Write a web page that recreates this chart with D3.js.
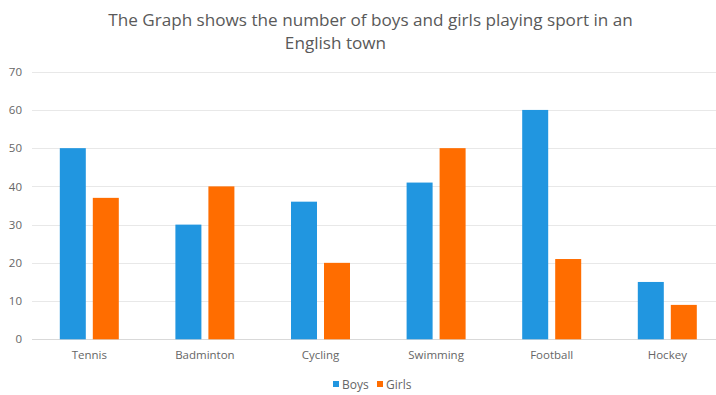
<!DOCTYPE html>
<html>
<head>
<meta charset="utf-8">
<script src="https://cdn.jsdelivr.net/npm/d3@7"></script>
<style>
  body { margin: 0; background: #fff; }
  text { font-family: "Open Sans", sans-serif; }
</style>
</head>
<body>
<div id="chart"></div>
<script>
// データ
const categories = ['Tennis', 'Badminton', 'Cycling', 'Swimming', 'Football', 'Hockey'];
const seriesNames = ['Boys', 'Girls'];
const boys = [50, 30, 36, 41, 60, 15];
const girls = [37, 40, 20, 50, 21, 9];
const yTicks = [0, 10, 20, 30, 40, 50, 60, 70];
const titleLines = ['The Graph shows the number of boys and girls playing sport in an', 'English town'];

const colors = { Boys: '#2196e0', Girls: '#ff6d00' };

// svg領域設定
const svgWidth = 716;
const svgHeight = 395;
const svg = d3.select('#chart')
  .append('svg')
  .attr('width', svgWidth)
  .attr('height', svgHeight);

// scales
const x0 = d3.scaleBand()
  .domain(categories)
  .range([31.5, 725.1]);
const groupWidth = 59;
const x1 = d3.scaleBand()
  .domain(seriesNames)
  .range([(x0.bandwidth() - groupWidth) / 2, (x0.bandwidth() + groupWidth) / 2])
  .paddingInner(7 / 33);
const y = d3.scaleLinear()
  .domain([0, 70])
  .range([339.3, 71.7]);

// title
const title = svg.append('g').attr('fill', '#595959');
const t1 = title.append('text')
  .attr('x', 370.5)
  .attr('y', 25.5)
  .attr('text-anchor', 'middle')
  .attr('font-size', 18)
  .text(titleLines[0]);
// 幅を合わせる
const fs = 18 * 525 / t1.node().getComputedTextLength();
t1.attr('font-size', fs);
title.append('text')
  .attr('x', 335.5)
  .attr('y', 49)
  .attr('text-anchor', 'middle')
  .attr('font-size', fs)
  .text(titleLines[1]);

// gridlines
svg.append('g')
  .selectAll('line')
  .data(yTicks)
  .join('line')
  .attr('x1', 32)
  .attr('x2', 716)
  .attr('y1', d => Math.round(y(d)) + 0.5)
  .attr('y2', d => Math.round(y(d)) + 0.5)
  .attr('stroke', d => d === 0 ? '#d9d9d9' : '#e8e8e8')
  .attr('stroke-width', 1);

// y axis
const yAxis = svg.append('g')
  .attr('transform', 'translate(22,0)')
  .call(d3.axisLeft(y).tickValues(yTicks).tickSize(0).tickPadding(0));
yAxis.select('.domain').remove();
yAxis.selectAll('text')
  .attr('font-family', '"Open Sans", sans-serif')
  .attr('font-size', 11.5)
  .attr('fill', '#666');

// x axis
const xAxis = svg.append('g')
  .attr('transform', 'translate(0,339)')
  .call(d3.axisBottom(x0).tickSize(0).tickPadding(12));
xAxis.select('.domain').remove();
xAxis.selectAll('text')
  .attr('font-family', '"Open Sans", sans-serif')
  .attr('font-size', 11.5)
  .attr('fill', '#666');

// bars
const rows = categories.map((c, i) => ({ cat: c, values: [
  { key: 'Boys', value: boys[i] },
  { key: 'Girls', value: girls[i] }
] }));
svg.append('g')
  .selectAll('g')
  .data(rows)
  .join('g')
  .attr('transform', d => `translate(${x0(d.cat)},0)`)
  .selectAll('rect')
  .data(d => d.values)
  .join('rect')
  .attr('x', d => x1(d.key))
  .attr('width', x1.bandwidth())
  .attr('y', d => y(d.value))
  .attr('height', d => y(0) - y(d.value))
  .attr('fill', d => colors[d.key]);

// legend
const legendX = [333, 377];
const legend = svg.append('g')
  .selectAll('g')
  .data(seriesNames)
  .join('g')
  .attr('transform', (d, i) => `translate(${legendX[i]},381)`);
legend.append('rect')
  .attr('width', 6)
  .attr('height', 6)
  .attr('fill', d => colors[d]);
legend.append('text')
  .attr('x', 9)
  .attr('y', 7.5)
  .attr('font-size', 12)
  .attr('fill', '#666')
  .text(d => d);
</script>
</body>
</html>
